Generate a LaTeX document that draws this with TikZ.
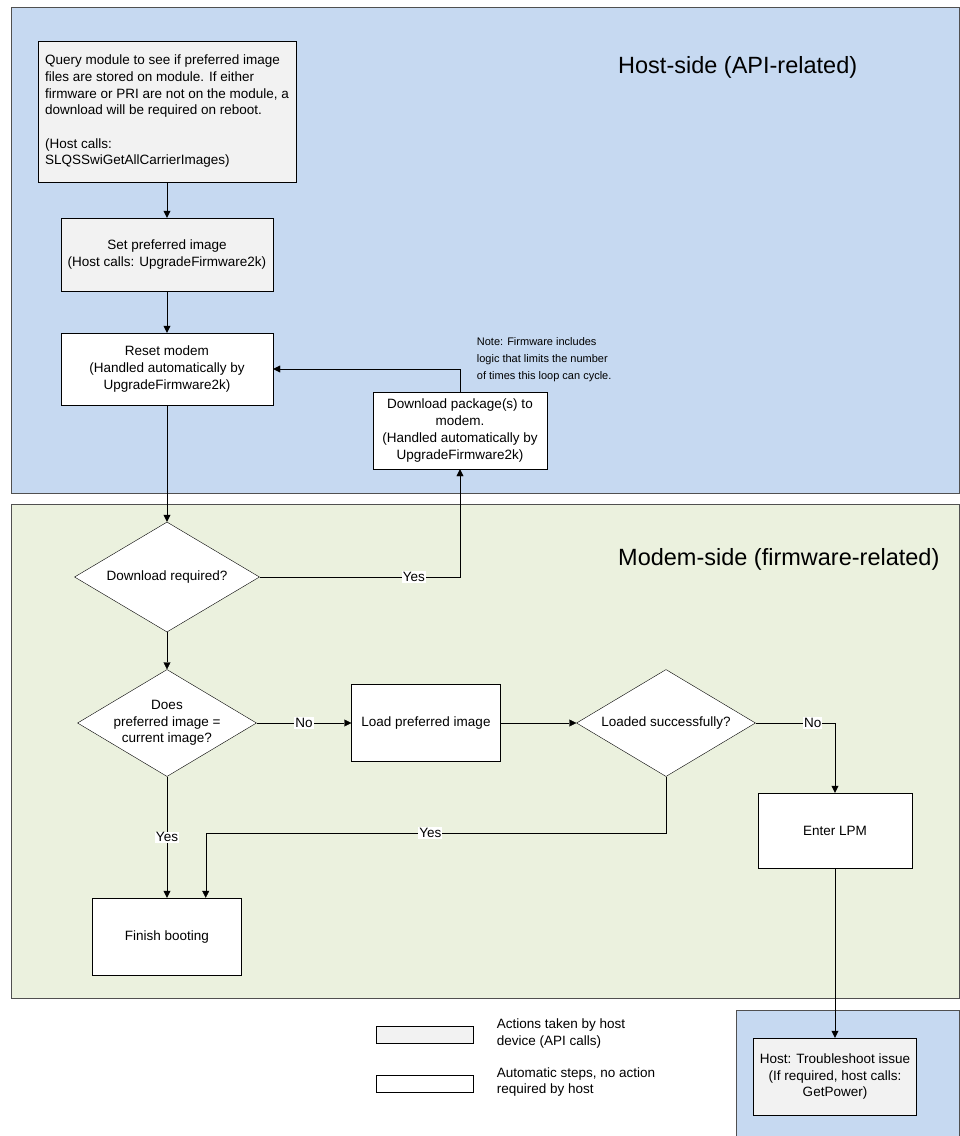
\documentclass[tikz,border=0pt]{standalone}
\usepackage{fontspec}
\setmainfont{Liberation Sans}
\usetikzlibrary{shapes.geometric,arrows.meta}
\definecolor{hostblue}{HTML}{C6D9F1}
\definecolor{modemgreen}{HTML}{EBF1DE}
\definecolor{apigray}{HTML}{F2F2F2}
\definecolor{lanegray}{HTML}{505050}

\begin{document}
\begin{tikzpicture}[x=1pt,y=1pt]
  \tikzstyle{every node}+=[inner sep=0pt,font=\fontsize{13.5}{16.7}\selectfont]
  \tikzstyle{hostbox}=[draw=black,fill=apigray,rectangle,align=center]
  \tikzstyle{autobox}=[draw=black,fill=white,rectangle,align=center]
  \tikzstyle{decision}=[draw=black,fill=white,diamond,minimum width=179pt,minimum height=107pt]
  \tikzstyle{lbl}=[fill=white,inner sep=1pt]
  \tikzstyle{arr}=[black,-{Triangle[length=7pt,width=7pt]}]
  \useasboundingbox (0,0) rectangle (960,-1136);
  % lanes
  \draw [lanegray,fill=hostblue] (11,-7) rectangle (959,-493);
  \draw [lanegray,fill=modemgreen] (11,-504) rectangle (959,-998);
  \fill [hostblue] (736,-1010) rectangle (959,-1140);
  \draw [lanegray] (736,-1140) -- (736,-1010) -- (959,-1010) -- (959,-1140);
  \node [anchor=base west,font=\fontsize{23.5}{28}\selectfont] (hostlane) at (618,-73) {Host-side (API-related)};
  \node [anchor=base west,font=\fontsize{23.5}{28}\selectfont] (modemlane) at (618,-565) {Modem-side (firmware-related)};
  % host steps
  \node [hostbox,align=left,minimum width=258pt,minimum height=141pt] (query) at (167,-111.3) {Query module to see if preferred image\\files are stored on module. If either\\firmware or PRI are not on the module, a\\download will be required on reboot.\\[16.7pt](Host calls:\\SLQSSwiGetAllCarrierImages)};
  \node [hostbox,minimum width=212pt,minimum height=73pt] (setimg) at (167,-254.5) {Set preferred image\\(Host calls: UpgradeFirmware2k)};
  \node [autobox,minimum width=212pt,minimum height=72pt] (reset) at (167,-369) {Reset modem\\(Handled automatically by\\UpgradeFirmware2k)};
  \node [autobox,minimum width=174pt,minimum height=77pt] (dload) at (460,-430.5) {Download package(s) to\\modem.\\(Handled automatically by\\UpgradeFirmware2k)};
  \node [anchor=west,align=left,font=\fontsize{11}{17}\selectfont] (loopnote) at (476.7,-360) {Note: Firmware includes\\logic that limits the number\\of times this loop can cycle.};
  % modem steps
  \node [decision,minimum width=185pt,minimum height=110pt,label={center:Download required?}] (dlreq) at (167,-577) {};
  \node [decision,label={[align=center]center:Does\\preferred image =\\current image?}] (same) at (167,-723) {};
  \node [autobox,minimum width=149pt,minimum height=77pt] (load) at (426,-723) {Load preferred image};
  \node [decision,label={center:Loaded successfully?}] (loaded) at (666,-723) {};
  \node [autobox,minimum width=154pt,minimum height=75pt] (lpm) at (835,-830.5) {Enter LPM};
  \node [autobox,minimum width=149pt,minimum height=77pt] (finish) at (167,-936.5) {Finish booting};
  \node [hostbox,minimum width=163pt,minimum height=77pt] (trouble) at (835,-1076.5) {Host: Troubleshoot issue\\(If required, host calls:\\GetPower)};
  % legend
  \node [hostbox,minimum width=97pt,minimum height=17pt] (keyhost) at (424.7,-1034.3) {};
  \node [autobox,minimum width=97pt,minimum height=17pt] (keyauto) at (424.7,-1083.3) {};
  \node [anchor=west,align=left] (keyhosttxt) at (496.7,-1033.4) {Actions taken by host\\device (API calls)};
  \node [anchor=west,align=left] (keyautotxt) at (496.7,-1082) {Automatic steps, no action\\required by host};
  % arrows
  \draw [arr] (query) -- (setimg);
  \draw [arr] (setimg) -- (reset);
  \draw [arr] (reset) -- (dlreq);
  \draw [arr] (dload.north) |- (reset.east);
  \draw [arr] (dlreq.east) -| (dload.south) node [lbl,pos=0.385] (yes1) {Yes};
  \draw [arr] (dlreq) -- (same);
  \draw [arr] (same.east) -- (load.west) node [lbl,midway] (no1) {No};
  \draw [arr] (load) -- (loaded);
  \draw [arr] (loaded.east) -| (lpm.north) node [lbl,pos=0.36] (no2) {No};
  \draw [arr] (same.south) -- (finish.north) node [lbl,midway] (yes3) {Yes};
  \coordinate (ybend) at (205.7,-833);
  \draw [arr] (loaded.south) |- (ybend) node [lbl,pos=0.756] (yes2) {Yes} -- (ybend |- finish.north);
  \draw [arr] (lpm) -- (trouble);
\end{tikzpicture}
\end{document}
